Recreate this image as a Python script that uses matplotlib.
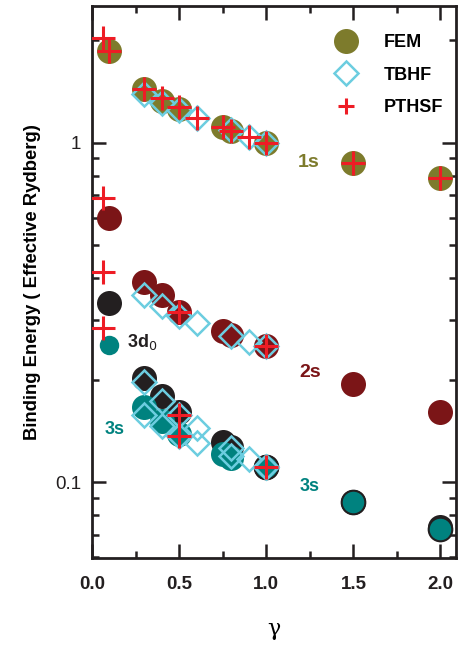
import numpy as np
import matplotlib.pyplot as plt
from matplotlib.ticker import LogLocator, NullFormatter, FixedLocator, FixedFormatter

plt.rcParams['font.family'] = ['Liberation Sans', 'DejaVu Sans']

# FEM (filled circles)
fem_1s_x = [0.1, 0.3, 0.4, 0.5, 0.75, 0.8, 1.0, 1.5, 2.0]
fem_1s_y = [1.86, 1.44, 1.33, 1.26, 1.11, 1.08, 1.0, 0.873, 0.789]
fem_2s_x = [0.1, 0.3, 0.4, 0.5, 0.75, 0.8, 1.0, 1.5, 2.0]
fem_2s_y = [0.598, 0.388, 0.357, 0.318, 0.278, 0.271, 0.251, 0.195, 0.161]
fem_3d_x = [0.1, 0.3, 0.4, 0.5, 0.75, 0.8, 1.0, 1.5, 2.0]
fem_3d_y = [0.338, 0.203, 0.179, 0.161, 0.131, 0.127, 0.111, 0.0875, 0.0735]
fem_3s_x = [0.1, 0.3, 0.4, 0.5, 0.75, 0.8, 1.0, 1.5, 2.0]
fem_3s_y = [0.253, 0.166, 0.151, 0.139, 0.121, 0.118, 0.111, 0.0872, 0.0727]

# TBHF (open diamonds)
tbhf_1s_x = [0.3, 0.4, 0.5, 0.6, 0.8, 0.9, 1.0]
tbhf_1s_y = [1.39, 1.31, 1.25, 1.18, 1.09, 1.04, 1.0]
tbhf_2s_x = [0.3, 0.4, 0.5, 0.6, 0.8, 0.9, 1.0]
tbhf_2s_y = [0.357, 0.331, 0.308, 0.294, 0.269, 0.258, 0.251]
tbhf_3d_x = [0.3, 0.4, 0.5, 0.6, 0.8, 0.9, 1.0]
tbhf_3d_y = [0.197, 0.173, 0.158, 0.144, 0.126, 0.117, 0.111]
tbhf_3s_x = [0.3, 0.4, 0.5, 0.6, 0.8, 1.0]
tbhf_3s_y = [0.158, 0.146, 0.137, 0.130, 0.119, 0.111]

# PTHSF (plus)
pthsf_x = [0.06, 0.1, 0.3, 0.4, 0.5, 0.6, 0.75, 0.8, 0.9, 1.0, 1.5, 2.0,
           0.06, 0.06, 0.06, 0.5, 1.0, 0.5, 0.5, 1.0]
pthsf_y = [2.03, 1.86, 1.44, 1.35, 1.27, 1.18, 1.11, 1.08, 1.04, 1.0, 0.873, 0.789,
           0.689, 0.415, 0.284, 0.316, 0.251, 0.158, 0.137, 0.111]

c_1s = '#7d7b2c'
c_2s = '#7b1517'
c_3d = '#231f20'
c_3s = '#00827f'
c_tb = '#6ccde0'
c_pt = '#ee1c25'

fig = plt.figure(figsize=(4.58, 6.49), dpi=100)
ax = fig.add_axes([0.201, 0.140, 0.795, 0.851])

ms = 18
ax.plot(fem_1s_x, fem_1s_y, 'o', ms=ms, color=c_1s, mec='none', zorder=2, label='FEM')
ax.plot(fem_2s_x, fem_2s_y, 'o', ms=ms, color=c_2s, mec='none', zorder=2)
ax.plot(fem_3d_x, fem_3d_y, 'o', ms=ms, color=c_3d, mec='none', zorder=2)
ax.plot(fem_3s_x[:1], fem_3s_y[:1], 'o', ms=14, color=c_3s, mec='none', zorder=2.5)
ax.plot(fem_3s_x[1:6], fem_3s_y[1:6], 'o', ms=ms, color=c_3s, mec='none', zorder=2.5)
ax.plot(fem_3s_x[6:], fem_3s_y[6:], 'o', ms=ms - 1, color=c_3s, mec=c_3d, mew=1.5, zorder=2.5)

dms = 12
for xs, ys in [(tbhf_1s_x, tbhf_1s_y), (tbhf_2s_x, tbhf_2s_y),
               (tbhf_3d_x, tbhf_3d_y), (tbhf_3s_x, tbhf_3s_y)]:
    ax.plot(xs, ys, 'D', ms=dms, mfc='none', mec=c_tb, mew=1.8, zorder=3)
ax.plot([], [], 'D', ms=dms, mfc='none', mec=c_tb, mew=1.8, label='TBHF')

ax.plot(pthsf_x, pthsf_y, '+', ms=17, mec=c_pt, mew=2.2, zorder=4, label='PTHSF')

ax.set_yscale('log')
ax.set_xlim(0, 2.09)
ax.set_ylim(0.0597, 2.53)

ax.xaxis.set_major_locator(FixedLocator([0, 0.5, 1.0, 1.5, 2.0]))
ax.xaxis.set_minor_locator(FixedLocator([0.25, 0.75, 1.25, 1.75]))
ax.set_xticklabels(['0.0', '0.5', '1.0', '1.5', '2.0'], fontweight='bold', fontsize=13.5)
ax.yaxis.set_major_locator(FixedLocator([0.1, 1]))
ax.yaxis.set_major_formatter(FixedFormatter(['0.1', '1']))
ax.yaxis.set_minor_locator(LogLocator(base=10, subs=np.arange(2, 10)))
ax.yaxis.set_minor_formatter(NullFormatter())
for lab in ax.get_yticklabels():
    lab.set_fontsize(13.5)

ax.tick_params(which='both', direction='in', top=True, right=True, width=1.8, colors='#231f20')
ax.tick_params(axis='x', which='major', length=10, pad=13)
ax.tick_params(axis='y', which='major', length=10, pad=8)
ax.tick_params(which='minor', length=5)
for sp in ax.spines.values():
    sp.set_linewidth(2)
    sp.set_color('#231f20')

ax.set_ylabel('Binding Energy ( Effective Rydberg)', fontsize=13.3, fontweight='bold', labelpad=10)
ax.set_xlabel('\u03b3', fontsize=16, labelpad=18, family=['DejaVu Serif'])

ax.text(1.18, 0.873, '1s', color=c_1s, fontsize=14, fontweight='bold', va='center')
ax.text(1.19, 0.211, '2s', color=c_2s, fontsize=14, fontweight='bold', va='center')
ax.text(0.20, 0.258, '3d$_0$', color=c_3d, fontsize=13, fontweight='bold', va='center')
ax.text(0.075, 0.143, '3s', color=c_3s, fontsize=13, fontweight='bold', va='center')
ax.text(1.19, 0.097, '3s', color=c_3s, fontsize=13, fontweight='bold', va='center')

leg = ax.legend(loc='upper right', bbox_to_anchor=(1.01, 0.978), frameon=False,
                prop={'weight': 'bold', 'size': 13}, labelspacing=0.85,
                handletextpad=1.1, numpoints=1)
leg.legend_handles[2].set_markersize(12)

fig.savefig('out.png', dpi=100)
